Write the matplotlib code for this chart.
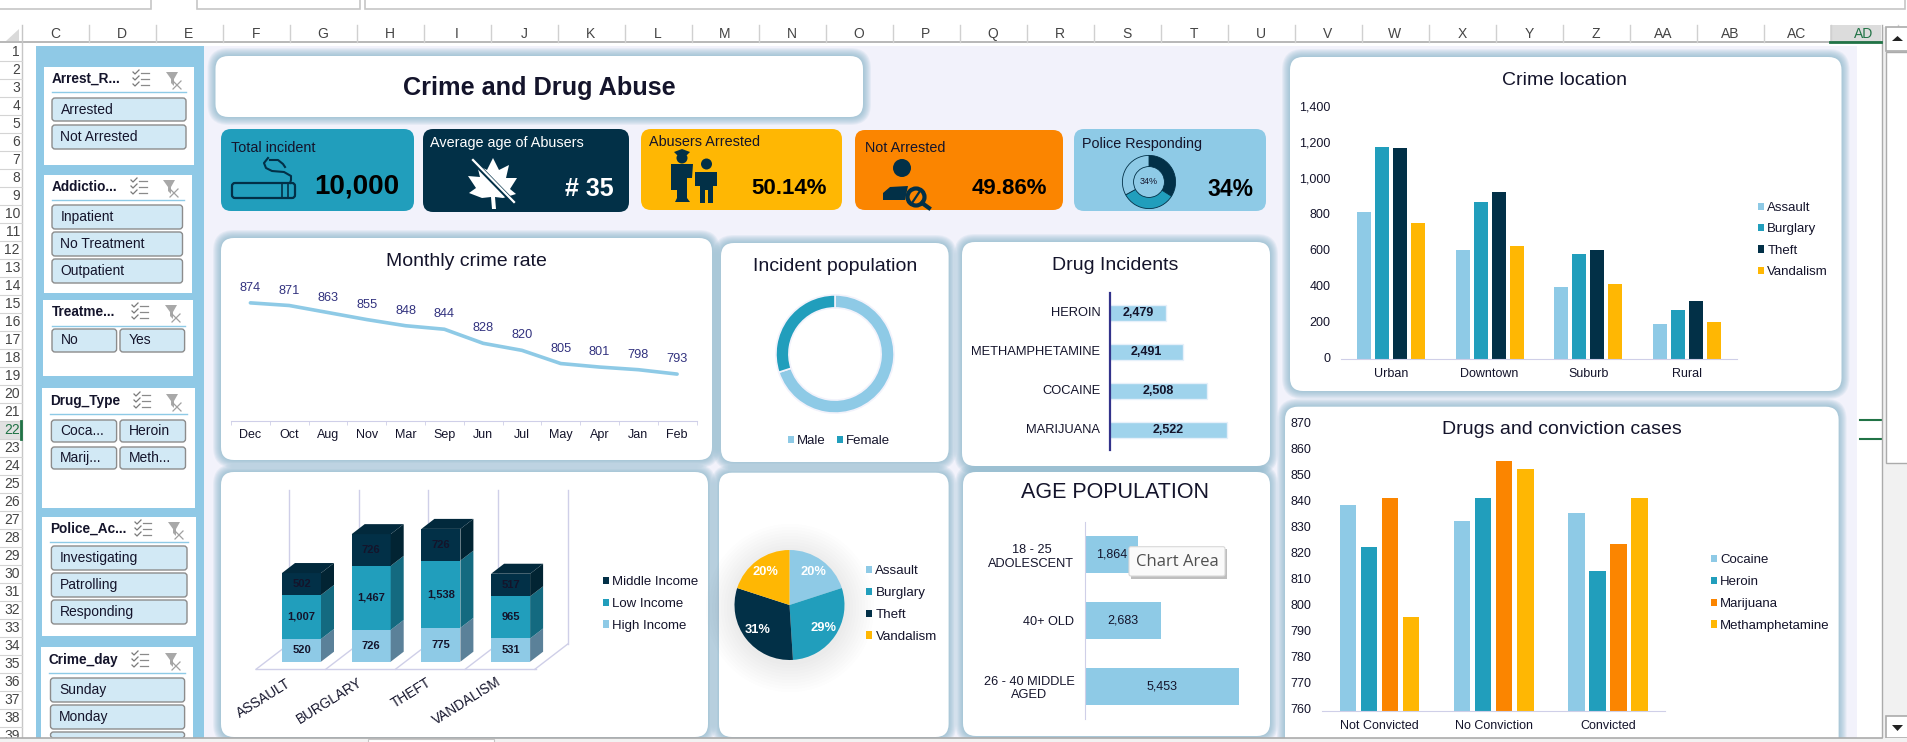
import matplotlib
matplotlib.use("Agg")
import matplotlib.pyplot as plt
from matplotlib.patches import FancyBboxPatch, Rectangle, Polygon, Circle, Patch
from matplotlib.transforms import ScaledTranslation

plt.rcParams['font.family'] = ['Liberation Sans', 'DejaVu Sans']

# ---------- data ----------
months = ['Dec','Oct','Aug','Nov','Mar','Sep','Jun','Jul','May','Apr','Jan','Feb']
monthly = [874,871,863,855,848,844,828,820,805,801,798,793]

gender_labels = ['Male','Female']
gender_vals = [70,30]

drug_names = ['HEROIN','METHAMPHETAMINE','COCAINE','MARIJUANA']
drug_vals = [2479,2491,2508,2522]

crime_types = ['ASSAULT','BURGLARY','THEFT','VANDALISM']
high_income = [520,726,775,531]
low_income = [1007,1467,1538,965]
middle_income = [502,726,726,517]

pie_labels = ['Assault','Burglary','Theft','Vandalism']
pie_vals = [20,29,31,20]

age_labels = ['18 - 25\nADOLESCENT','40+ OLD','26 - 40 MIDDLE\nAGED']
age_vals = [1864,2683,5453]

locations = ['Urban','Downtown','Suburb','Rural']
loc_assault = [818,607,402,196]
loc_burglary = [1179,874,585,274]
loc_theft = [1174,930,607,324]
loc_vandalism = [757,629,418,207]

conv_cats = ['Not Convicted','No Conviction','Convicted']
conv_cocaine = [839,833,836]
conv_heroin = [823,842,814]
conv_marijuana = [842,856,824]
conv_meth = [796,853,842]

police_share = [34,33,33]
column_letters = ['C','D','E','F','G','H','I','J','K','L','M','N','O','P','Q','R','S','T','U',
                  'V','W','X','Y','Z','AA','AB','AC','AD']

# ---------- style ----------
LIGHT, TEAL, NAVY, AMBER, ORANGE = '#8ECAE6', '#219EBC', '#023047', '#FFB703', '#FB8500'
INK = '#14142B'
AXIS = '#CFCFE8'
W, H = 1908, 742
fig = plt.figure(figsize=(W/100, H/100), dpi=100, facecolor='white')

bg = fig.add_axes([0,0,1,1], zorder=-1)
bg.set_xlim(0,W); bg.set_ylim(H,0); bg.axis('off')
fg = fig.add_axes([0,0,1,1], zorder=10)
fg.set_xlim(0,W); fg.set_ylim(H,0); fg.axis('off'); fg.patch.set_alpha(0)

def px_axes(x0, yt, x1, yb):
    a = fig.add_axes([x0/W, 1-yb/H, (x1-x0)/W, (yb-yt)/H], zorder=1)
    a.patch.set_alpha(0)
    return a

def rrect(ax, x0, y0, x1, y1, r, fc, ec='none', lw=0, z=1, alpha=None):
    p = FancyBboxPatch((x0+r, y0+r), x1-x0-2*r, y1-y0-2*r,
                       boxstyle=f'round,pad={r},rounding_size={r}',
                       fc=fc, ec=ec, lw=lw, zorder=z, alpha=alpha)
    ax.add_patch(p)
    return p

def panel(x0, y0, x1, y1, r=13):
    for g in range(8, 0, -1):
        rrect(bg, x0-g, y0-g, x1+g, y1+g, r+g, '#7FB0C6', z=2, alpha=0.11)
    rrect(bg, x0, y0, x1, y1, r, 'white', z=3)

def txt(x, y, s, size=10, color=INK, ha='left', va='center', weight='normal', ax=None, z=8, **kw):
    return (ax or bg).text(x, y, s, fontsize=size, color=color, ha=ha, va=va, weight=weight, zorder=z, **kw)

def legend(labels, colors, x, yc, pitch, size=9.5, ncol=1, colsp=1.0):
    fpx = size*100/72
    fig.legend([Patch(fc=c, ec='none') for c in colors], labels, loc='center left',
               bbox_to_anchor=(x/W, 1-yc/H), bbox_transform=fig.transFigure, frameon=False,
               fontsize=size, ncol=ncol, borderpad=0, borderaxespad=0,
               handlelength=0.46, handleheight=0.46, handletextpad=0.25,
               labelspacing=pitch/fpx-0.95, columnspacing=colsp, labelcolor=INK)

# ---------- spreadsheet chrome ----------
bg.add_patch(Rectangle((36,46), 1857-36, 692, fc='#F2F2FB', zorder=1))
bg.add_patch(Rectangle((36,46), 168, 692, fc='#8FC9E6', zorder=1.5))
for a, b in [(-2,151),(197,360),(365,1905)]:
    bg.add_patch(Rectangle((a,-3), b-a, 12, fc='white', ec='#C6C6C6', lw=1.2, zorder=1))
bg.plot([0,1881],[42,42], color='#ABABAB', lw=1.2, zorder=2)
bg.plot([21.6,21.6],[25,738], color='#C6C6C6', lw=1, zorder=2)
bg.add_patch(Polygon([[6,41],[19,41],[19,29]], fc='#DADADA', zorder=2))
bg.add_patch(Rectangle((1830.5,25), 50.5, 17, fc='#DCDCDC', zorder=1.5))
bg.plot([1830.5,1881],[42,42], color='#217346', lw=2, zorder=3)
for i, c in enumerate(column_letters):
    cx = 55 + 67*i
    txt(cx, 34, c, 10, '#217346' if c == 'AD' else '#444444', 'center')
    bg.plot([88.6+67*i]*2, [25,42], color='#D0D0D0', lw=1, zorder=2)
for n in range(1, 40):
    cy = 52 + 18*(n-1)
    if n == 22:
        bg.add_patch(Rectangle((0,cy-9), 21.6, 18, fc='#E1E1E1', zorder=1.5))
        bg.plot([21,21],[cy-9,cy+9], color='#217346', lw=2, zorder=3)
    txt(20, cy, str(n), 10, '#217346' if n == 22 else '#444444', 'right')
    bg.plot([0,21.6],[cy+9,cy+9], color='#D4D4D4', lw=0.8, zorder=2)
for y in (420, 439):
    bg.plot([1860,1881],[y,y], color='#217346', lw=1.5, zorder=2)
bg.plot([1882,1882],[25,738], color='#ABABAB', lw=1, zorder=2)
bg.add_patch(Rectangle((1883,27), 25, 711, fc='#F1F1F1', zorder=1))
bg.add_patch(Rectangle((1886,27), 22, 24, fc='white', ec='#ABABAB', lw=1.2, zorder=2))
bg.add_patch(Rectangle((1886,52), 22, 411, fc='white', ec='#ABABAB', lw=1, zorder=2))
bg.add_patch(Rectangle((1886,716), 22, 22, fc='white', ec='#ABABAB', lw=1.2, zorder=2))
bg.add_patch(Polygon([[1892,41],[1903,41],[1897.5,36]], fc='#222222', zorder=3))
bg.add_patch(Polygon([[1892,725],[1903,725],[1897.5,731]], fc='#222222', zorder=3))

# ---------- slicers ----------
def checklist(cx, cy):
    for dy in (-6,0,6):
        bg.plot([cx-8,cx-6,cx-2],[cy+dy-1,cy+dy+1,cy+dy-3], color='#7A7A7A', lw=0.9, zorder=6)
        bg.plot([cx,cx+8],[cy+dy,cy+dy], color='#8A8A8A', lw=0.9, zorder=6)

def clearfilter(cx, cy):
    bg.add_patch(Polygon([[cx-7,cy-8],[cx+5,cy-8],[cx+1,cy-1],[cx+1,cy+6],[cx-2,cy+3],[cx-2,cy-1]],
                         fc='#A8A8A8', zorder=6))
    bg.plot([cx,cx+8],[cy+1,cy+9], color='#A0A0A0', lw=0.9, zorder=6)
    bg.plot([cx+8,cx],[cy+1,cy+9], color='#A0A0A0', lw=0.9, zorder=6)

def slicer(x0,y0,x1,y1,title,tx,ty,sep_y,sx1,ic1,ic2,buttons):
    bg.add_patch(Rectangle((x0,y0), x1-x0, y1-y0, fc='white', zorder=3))
    txt(tx, ty, title, 9.8, weight='bold')
    bg.plot([tx,sx1],[sep_y,sep_y], color=LIGHT, lw=1, zorder=5)
    checklist(ic1, ty)
    clearfilter(ic2-1, ty+1)
    for bx0, by0, bx1, by1, s in buttons:
        rrect(bg, bx0, by0, bx1, min(by1,738), 3, '#D2E9F5', '#8C8C8C', 1, z=5)
        if by1 <= 738:
            txt(bx0+8.5, (by0+by1)/2, s, 10, clip_on=True)

slicer(44,67,194,165,'Arrest_R...',52,79,92,186,141,174,
       [(52,98,186,121,'Arrested'),(52,125,186,149,'Not Arrested')])
slicer(44,175,192,293,'Addictio...',52,187,200,184,139,171,
       [(52,205,182.5,229,'Inpatient'),(52,232,182.5,256,'No Treatment'),(52,259,182.5,283,'Outpatient')])
slicer(43,300,193,376,'Treatme...',52,312,326,185,140,173,
       [(52,329,116.6,352,'No'),(120,329,184.6,352,'Yes')])
slicer(42,388,195,508,'Drug_Type',50.5,401,414,187,142,174,
       [(51.4,420,116.6,442,'Coca...'),(120,420,185.5,442,'Heroin'),
        (51.4,447,116.6,469,'Marij...'),(120,447,185.5,469,'Meth...')])
slicer(42,517,196,636,'Police_Ac...',50.5,529,542,188,143,176,
       [(51.4,546,187,570,'Investigating'),(51.4,573,187,597,'Patrolling'),(51.4,600,187,624,'Responding')])
slicer(41,647,193,738,'Crime_day',49,660,673,185,140,173,
       [(50.5,678,184.6,702,'Sunday'),(50.5,705,184.6,729,'Monday'),(50.5,732,184.6,760,'')])

# ---------- title + KPI cards ----------
panel(215.5,56,863,117)
txt(539,88,'Crime and Drug Abuse',18.2,weight='bold',ha='center')

def card(x0,y0,x1,y1,fc,label,lx,ly,value,vx,vy,vsize,tc=INK,vc='#000000'):
    rrect(bg,x0,y0,x1,y1,10,fc,z=3)
    txt(lx,ly,label,10.4,tc)
    txt(vx,vy,value,vsize,vc,ha='right',weight='bold')

card(221,129,414,211,TEAL,'Total incident',231,148,'10,000',399,186,20)
card(423,129,629,212,NAVY,'Average age of Abusers',430,143,'# 35',614,189,18,'white','white')
card(641,129,842,210,AMBER,'Abusers Arrested',649,142,'50.14%',827,189,16)
card(855,130,1063,210,ORANGE,'Not Arrested',865,148,'49.86%',1047,188,16)
card(1074,129,1266,211,LIGHT,'Police Responding',1082,144,'34%',1253,189,16.5)

# cigarette icon
rrect(bg,232,183,295,198,3,'none',NAVY,1.6,z=5)
for x in (282,288):
    bg.plot([x,x],[184,197],color=NAVY,lw=1.2,zorder=5)
bg.plot([268,264,266,272,284,291,291,290],[158,163,168,171,172,176,180,183],color=NAVY,lw=1.5,zorder=5)
bg.plot([270,278,283,285],[160,160,164,167],color=NAVY,lw=1.5,zorder=5)
# leaf icon
bg.add_patch(Polygon([(493,158),(499,170),(509,165),(506,178),(517,178),(510,189),(516,194),(503,198),
                      (495,197),(496,209),(492,209),(491,197),(482,198),(469,193),(476,188),(468,176),
                      (480,177),(477,165),(487,170)],fc='white',zorder=5))
bg.plot([474,515],[162,204],color=NAVY,lw=3.5,zorder=6)
bg.plot([473,514],[160,202],color='white',lw=1.6,zorder=7)
# officer + suspect icon
bg.add_patch(Circle((682,158),5.5,fc=NAVY,zorder=5))
bg.add_patch(Polygon([(674,152),(682,149),(690,152),(687,155),(677,155)],fc=NAVY,zorder=5))
bg.add_patch(Polygon([(671,164),(693,164),(692,178),(687,178),(687,198),(690,202),(675,202),(677,198),(677,190),(671,190)],fc=NAVY,zorder=5))
bg.add_patch(Circle((706.5,164),5.5,fc=NAVY,zorder=5))
bg.add_patch(Polygon([(695,172),(717,172),(717,186),(713,186),(713,203),(708,203),(708,190),(705,190),(705,203),(700,203),(700,186),(695,186)],fc=NAVY,zorder=5))
# person + magnifier icon
bg.add_patch(Circle((902,168),9,fc=NAVY,zorder=5))
bg.add_patch(Polygon([(883,200),(883,193),(890,187),(908,186),(905,200)],fc=NAVY,zorder=5))
bg.add_patch(Circle((916,197),8.5,fc='none',ec=NAVY,lw=3,zorder=5))
bg.plot([922,929],[203,208],color=NAVY,lw=3,zorder=5)
bg.plot([912,920],[203,191],color=NAVY,lw=1.6,zorder=5)

# mini doughnut in card
R = 29
ax = px_axes(1149-R,182-R,1149+R,182+R)
ax.pie(police_share,colors=[NAVY,TEAL,LIGHT],startangle=90,counterclock=False,radius=1,
       wedgeprops=dict(width=0.42,edgecolor=NAVY,linewidth=0.6))
ax.set_xlim(-1.09,1.09); ax.set_ylim(-1.09,1.09)
txt(1149,182,'34%',6.5,ha='center')

# ---------- panels ----------
panel(221,238,712,460)
panel(721,243,948.6,462)
panel(962,242,1270,466)
panel(221,472,708,737)
panel(719,472.7,948.6,737)
panel(963,472,1270,736)
panel(1290,57,1841.5,391)
panel(1285,406.7,1838.6,760)

def clean(a, keep=('bottom',)):
    for s in a.spines:
        a.spines[s].set_visible(s in keep)
        a.spines[s].set_color(AXIS)

def lift_ticklabels(a, px=1.5):
    for lbl in a.get_yticklabels():
        lbl.set_transform(lbl.get_transform() + ScaledTranslation(0, px/100, fig.dpi_scale_trans))

# monthly line
txt(466,262,'Monthly crime rate',14,ha='center',z=8)
ax = px_axes(231,280,696.5,420.7)
ax.plot(range(12),monthly,color=LIGHT,lw=2.6,solid_capstyle='round')
ax.set_xlim(-0.5,11.5); ax.set_ylim(740,900)
clean(ax)
ax.set_yticks([])
ax.set_xticks(range(12)); ax.set_xticklabels(months,fontsize=9,color=INK)
ax.set_xticks([i-0.5 for i in range(13)],minor=True)
ax.tick_params(axis='x',which='major',length=0,pad=6)
ax.tick_params(axis='x',which='minor',length=3,color=AXIS,direction='out')
for i,v in enumerate(monthly):
    ax.annotate(str(v),(i,v),xytext=(0,10.8),textcoords='offset points',ha='center',va='center',
                fontsize=9.2,color='#32327E')

# gender doughnut
txt(835,266.5,'Incident population',14,ha='center')
ax = px_axes(835-65,354-65,835+65,354+65)
ax.pie(gender_vals,colors=[LIGHT,TEAL],startangle=90,counterclock=False,radius=1,
       wedgeprops=dict(width=0.22,edgecolor='#F2F2FB',linewidth=1.2))
ax.set_xlim(-1.1,1.1); ax.set_ylim(-1.1,1.1)
legend(gender_labels,[LIGHT,TEAL],788,441,20,size=9.5,ncol=2,colsp=0.8)

# drug incidents
txt(1115,265,'Drug Incidents',14,ha='center')
ax = px_axes(1110,293,1238,450)
ypos = list(range(len(drug_names)))
ax.barh(ypos,drug_vals,height=0.41,color='#9FD3EC',edgecolor='#E6F0FA',linewidth=1)
ax.set_xlim(2439,2530); ax.set_ylim(3.5,-0.5)
clean(ax,('left',)); ax.spines['left'].set_color('#32328A'); ax.spines['left'].set_linewidth(1.6)
ax.set_xticks([]); ax.set_yticks(ypos); ax.set_yticklabels(drug_names,fontsize=9.3,color=INK)
ax.tick_params(axis='y',length=0,pad=7)
lift_ticklabels(ax,1.5)
for i,v in enumerate(drug_vals):
    ax.text((2439+v)/2,i,f'{v:,}',ha='center',va='center',fontsize=9,weight='bold',color=INK)

# pseudo-3D stacked columns
ax = px_axes(240,480,600,680)
ax.set_xlim((240-301.5)/69.7,(600-301.5)/69.7)
ax.set_ylim(-18.3/0.0437,(661.7-480)/0.0437)
ax.axis('off')
DX, DY = 13/69.7, 10/0.0437
BW = 39/69.7
# walls and floor
wall_top = (661.7-490)/0.0437
fy0, fy1 = -(669.3-661.7)/0.0437, (661.7-644)/0.0437
for k in range(5):
    xb = -0.5+k-0.5+ (289-266.65)/69.7 + 0.5
    ax.plot([xb,xb],[fy1,wall_top],color=AXIS,lw=1,zorder=1)
    ax.plot([xb-33/69.7,xb],[fy0,fy1],color=AXIS,lw=1,zorder=1)
ax.plot([(256-301.5)/69.7,(536-301.5)/69.7],[fy0,fy0],color=AXIS,lw=1,zorder=1)
xs = list(range(4))
bottoms = [0,0,0,0]
layers = [(high_income,LIGHT,'#5B8199'),(low_income,TEAL,'#146A80'),(middle_income,NAVY,'#022433')]
for vals,col,side in layers:
    ax.bar(xs,vals,width=BW,bottom=bottoms,color=col,zorder=3)
    for i in xs:
        r = i+BW/2
        ax.add_patch(Polygon([(r,bottoms[i]),(r+DX,bottoms[i]+DY),(r+DX,bottoms[i]+vals[i]+DY),(r,bottoms[i]+vals[i])],
                             fc=side,ec='none',zorder=3))
        ax.text(i,bottoms[i]+vals[i]/2,f'{vals[i]:,}',ha='center',va='center',fontsize=8,weight='bold',
                color=INK,zorder=5)
    bottoms = [b+v for b,v in zip(bottoms,vals)]
for i in xs:
    l, r, t = i-BW/2, i+BW/2, bottoms[i]
    ax.add_patch(Polygon([(l,t),(r,t),(r+DX,t+DY),(l+DX,t+DY)],fc='#02293C',ec='none',zorder=4))
label_xy = [(264,698),(329,701),(411,693),(467,701)]
for name,(lx,ly) in zip(crime_types,label_xy):
    txt(lx,ly,name,9.8,ha='center',rotation=32,rotation_mode='anchor',z=8)
legend(['Middle Income','Low Income','High Income'],[NAVY,TEAL,LIGHT],603,604,22.3,size=9.5)

# crime-type pie
for r in range(84,54,-3):
    bg.add_patch(Circle((790,608),r,fc='#5A6A75',alpha=0.011,zorder=4))
R = 55
ax = px_axes(789.5-R*1.1,605-R*1.1,789.5+R*1.1,605+R*1.1)
_,_,auto = ax.pie(pie_vals,colors=[LIGHT,TEAL,NAVY,AMBER],startangle=90,counterclock=False,radius=1,
                  autopct='%d%%',pctdistance=0.74,textprops=dict(color='white',fontsize=9.3,weight='bold'))
ax.set_xlim(-1.1,1.1); ax.set_ylim(-1.1,1.1)
legend(pie_labels,[LIGHT,TEAL,NAVY,AMBER],866,604,22.5,size=9.6)

# age population
txt(1115,493,'AGE POPULATION',15.5,ha='center')
ax = px_axes(1085.5,522,1254.4,719)
ypos = list(range(3))
ax.barh(ypos,age_vals,height=37/65.7,color=LIGHT)
ax.set_xlim(0,6000); ax.set_ylim(2.5,-0.5)
clean(ax,('left',)); ax.set_xticks([]); ax.set_yticks(ypos)
ax.set_yticklabels(age_labels,fontsize=9.2,color=INK,multialignment='center')
ax.tick_params(axis='y',length=0,pad=8)
for i,v in enumerate(age_vals):
    ax.text(v/2,i,f'{v:,}',ha='center',va='center',fontsize=9,color=INK)

# tooltip
fg.add_patch(Rectangle((1131,549),96,30,fc='#8A8A8A',alpha=0.55,zorder=1))
rrect(fg,1129,546.7,1225,576,2,'#FAFAFA','#D8D8D8',0.8,z=2)
txt(1177,561.5,'Chart Area',12,'#505050',ha='center',ax=fg,z=3,family=['Open Sans','DejaVu Sans'])

# grouped bars
def grouped(ax, cats, series, colors, step, width):
    n = len(series)
    for k,(vals,col) in enumerate(zip(series,colors)):
        ax.bar([i+(k-(n-1)/2)*step for i in range(len(cats))],vals,width=width,color=col,zorder=2)
    ax.set_xlim(-0.5,len(cats)-0.5)
    ax.set_xticks(range(len(cats))); ax.set_xticklabels(cats,fontsize=9,color=INK)
    ax.tick_params(axis='x',length=0,pad=6)
    ax.tick_params(axis='y',length=0,pad=8,labelsize=9,labelcolor=INK)
    clean(ax)

txt(1565,80.5,'Crime location',14,ha='center')
ax = px_axes(1341.5,107.3,1736.6,359.3)
grouped(ax,locations,[loc_assault,loc_burglary,loc_theft,loc_vandalism],[LIGHT,TEAL,NAVY,AMBER],0.182,0.142)
ax.set_ylim(0,1400); ax.set_yticks(range(0,1401,200))
ax.set_yticklabels([f'{v:,}' for v in range(0,1401,200)])
lift_ticklabels(ax,1.5)
legend(pie_labels,[LIGHT,TEAL,NAVY,AMBER],1758,240,22,size=9.5)

txt(1562,429.5,'Drugs and conviction cases',14,ha='center')
ax = px_axes(1322.3,424.6,1665,711.3)
grouped(ax,conv_cats,[conv_cocaine,conv_heroin,conv_marijuana,conv_meth],[LIGHT,TEAL,ORANGE,AMBER],0.184,0.146)
ax.set_ylim(760,870); ax.set_yticks(range(760,871,10))
lift_ticklabels(ax,2.5)
legend(['Cocaine','Heroin','Marijuana','Methamphetamine'],[LIGHT,TEAL,ORANGE,AMBER],1711,593,22.3,size=9.5)

# bottom tab bar (covers clipped panels)
fg.add_patch(Rectangle((0,738),1908,6,fc='#F2F2F2',zorder=4))
fg.plot([0,1882],[738,738],color='#ABABAB',lw=1.2,zorder=5)
fg.add_patch(Rectangle((368,738.5),126.5,5,fc='white',ec='#C6C6C6',lw=0.8,zorder=5))

fig.savefig('out.png',dpi=100,facecolor='white')
